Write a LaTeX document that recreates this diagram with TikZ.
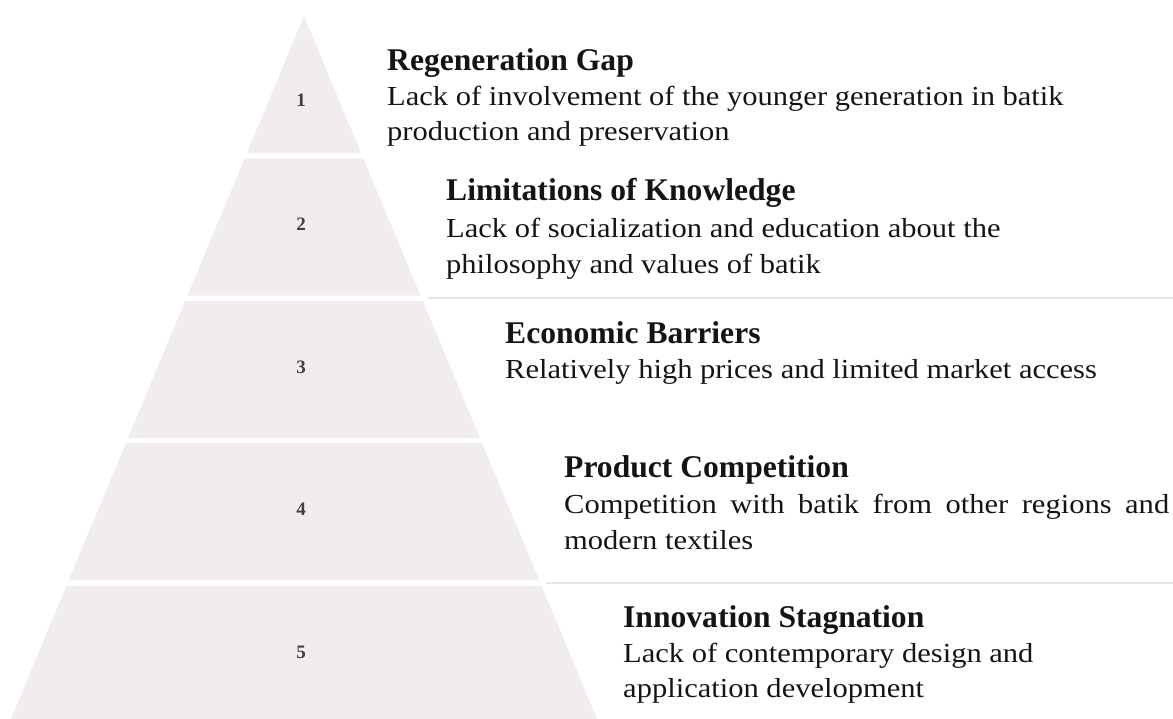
\documentclass[tikz,border=0pt]{standalone}
\usepackage{fontspec}
\setmainfont{Liberation Serif}
\newfontfamily\bodyfont[FakeStretch=1.11]{Liberation Serif}
\definecolor{bandgray}{RGB}{240,237,236}
\definecolor{numgray}{RGB}{64,64,64}
\definecolor{sepgray}{RGB}{230,230,230}
\definecolor{txt}{RGB}{20,20,20}
\tikzset{
  band/.style={fill=bandgray, draw=none},
  num/.style={font=\fontsize{19}{19}\selectfont\bfseries, text=numgray, inner sep=0pt, anchor=base},
  ttl/.style={font=\fontsize{31.6}{36}\selectfont\bfseries, text=txt, inner sep=0pt, anchor=base west},
  bdy/.style={font=\bodyfont\fontsize{27.5}{35}\selectfont, text=txt, inner sep=0pt, anchor=base west},
  sepline/.style={draw=sepgray, line width=1.6pt}
}
\begin{document}
\begin{tikzpicture}[x=1pt,y=-1pt]
\useasboundingbox (0,0) rectangle (1173,718);
\begin{scope}
\clip (0,0) rectangle (1173,718);
% pyramid bands
\fill[band] (304,16) -- (361.2,153.2) -- (246.8,153.2) -- cycle;
\fill[band] (244.6,158.4) -- (363.4,158.4) -- (420.6,295.6) -- (187.4,295.6) -- cycle;
\fill[band] (185.2,300.8) -- (422.8,300.8) -- (480.0,438.0) -- (128.0,438.0) -- cycle;
\fill[band] (125.9,443.2) -- (482.1,443.2) -- (539.4,580.4) -- (68.6,580.4) -- cycle;
\fill[band] (66.5,585.6) -- (541.5,585.6) -- (598.7,722.8) -- (9.3,722.8) -- cycle;
\end{scope}
% separator lines
\coordinate (s1a) at (428,298);
\coordinate (s1b) at (1173,298);
\coordinate (s2a) at (546,583);
\coordinate (s2b) at (1173,583);
\draw[sepline] (s1a) -- (s1b);
\draw[sepline] (s2a) -- (s2b);
% numbers
\node[num] (n1) at (301,106) {1};
\node[num] (n2) at (301,230) {2};
\node[num] (n3) at (301,373) {3};
\node[num] (n4) at (301,515) {4};
\node[num] (n5) at (301,658) {5};
% level 1
\node[ttl] (t1) at (387,70) {Regeneration Gap};
\node[bdy] (b1a) at (387,105) {Lack of involvement of the younger generation in batik};
\node[bdy] (b1b) at (387,140) {production and preservation};
% level 2
\node[ttl] (t2) at (446,200) {Limitations of Knowledge};
\node[bdy] (b2a) at (446,237) {Lack of socialization and education about the};
\node[bdy] (b2b) at (446,273) {philosophy and values of batik};
% level 3
\node[ttl] (t3) at (505,343) {Economic Barriers};
\node[bdy] (b3a) at (505,378) {Relatively high prices and limited market access};
% level 4
\node[ttl] (t4) at (564,477) {Product Competition};
\node[bdy] (b4a) at (564,513) {\makebox[605pt][s]{Competition with batik from other regions and}};
\node[bdy] (b4b) at (564,549) {modern textiles};
% level 5
\node[ttl] (t5) at (623,627) {Innovation Stagnation};
\node[bdy] (b5a) at (623,662) {Lack of contemporary design and};
\node[bdy] (b5b) at (623,697) {application development};
\end{tikzpicture}
\end{document}
